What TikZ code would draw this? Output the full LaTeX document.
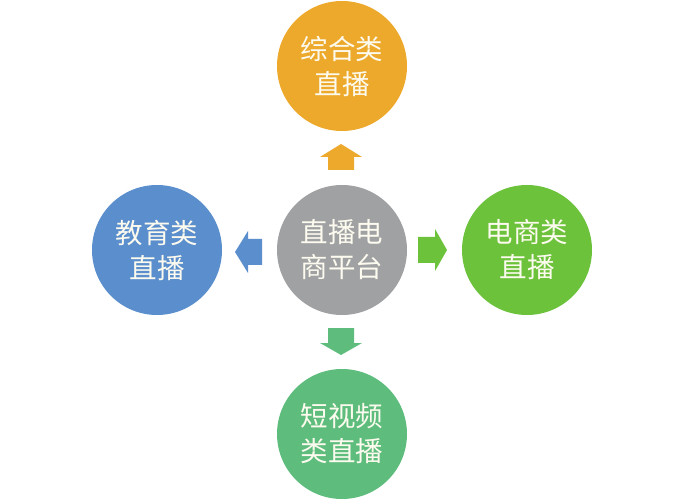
\documentclass[tikz,border=0pt]{standalone}
\usepackage{fontspec}
\setmainfont{Noto Sans CJK SC}
\definecolor{corange}{HTML}{EDA92B}
\definecolor{cblue}{HTML}{5B8ECC}
\definecolor{cgray}{HTML}{A0A1A3}
\definecolor{cgreen}{HTML}{6DC23C}
\definecolor{cteal}{HTML}{5EBD7D}
\definecolor{ctext}{HTML}{FDFBEF}
\tikzset{
  bubble/.style={circle, minimum size=130pt, inner sep=0pt, draw=none, fill=#1,
    text=ctext, align=center, font=\fontsize{27.5}{35}\selectfont},
}
\begin{document}
\begin{tikzpicture}[x=1pt,y=-1pt]
\useasboundingbox (0,0) rectangle (697,500);
\fill[white] (0,0) rectangle (697,500);
\node[bubble=cgray] (c) at (342,250) {直播电\\商平台};
\node[bubble=corange] (t) at (342,66) {综合类\\直播};
\node[bubble=cblue] (l) at (157,250) {教育类\\直播};
\node[bubble=cgreen] (r) at (527,250) {电商类\\直播};
\node[bubble=cteal] (b) at (342,434) {短视频\\类直播};
% up arrow
\fill[corange] (341,144) -- (362,157) -- (354,157) -- (354,170) -- (328,170) -- (328,157) -- (320,157) -- cycle;
% left arrow
\fill[cblue] (235,252) -- (248,231) -- (248,239) -- (262,239) -- (262,265) -- (248,265) -- (248,273) -- cycle;
% right arrow
\fill[cgreen] (447,250) -- (435,229) -- (435,237) -- (418,237) -- (418,263) -- (435,263) -- (435,271) -- cycle;
% down arrow
\fill[cteal] (341,355) -- (362,343) -- (354,343) -- (354,328) -- (328,328) -- (328,343) -- (320,343) -- cycle;
\end{tikzpicture}
\end{document}
